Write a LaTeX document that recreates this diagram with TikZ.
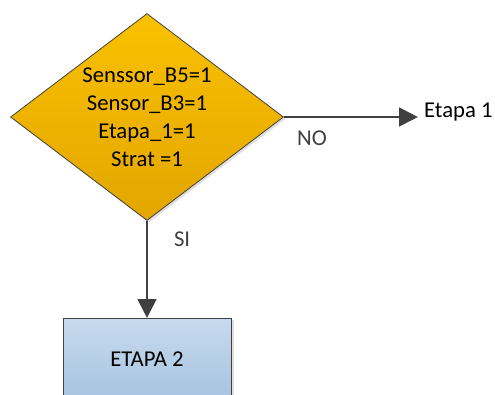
\documentclass[tikz,border=0pt]{standalone}
\usepackage{fontspec}
\setmainfont{Carlito}
\usepackage{tikz}
\usetikzlibrary{positioning,shapes.geometric,shadows,arrows.meta}
\definecolor{DecTop}{RGB}{250,193,0}
\definecolor{DecBottom}{RGB}{226,166,0}
\definecolor{StepTop}{RGB}{199,218,237}
\definecolor{StepBottom}{RGB}{166,196,225}
\definecolor{LineGray}{RGB}{64,64,64}

\begin{document}
\begin{tikzpicture}[%
      x=0.75pt, y=-0.75pt,
      font=\fontsize{17}{21}\selectfont,
      decision/.style={diamond, draw=LineGray, line width=0.6pt, top color=DecTop, bottom color=DecBottom, aspect=1.32, align=center, inner sep=0pt, minimum width=204.75pt, minimum height=155.25pt, drop shadow={shadow xshift=1.5pt, shadow yshift=-1.5pt, opacity=0.25}},
      block/.style={rectangle, draw=LineGray, line width=0.6pt, top color=StepTop, bottom color=StepBottom, align=center, minimum width=126pt, minimum height=61.5pt, drop shadow={shadow xshift=2pt, shadow yshift=-1pt, opacity=0.25}},
      txt/.style={inner sep=4.5pt},
      arrow/.style={-{Triangle[length=14pt, width=14pt]}, line width=1.6pt, LineGray}
    ]
      \useasboundingbox (0,0) rectangle (495,394);

      % Nodes
      \node[decision] (cond) at (147,117) {Senssor\_B5=1\\Sensor\_B3=1\\Etapa\_1=1\\Strat =1};
      \node[txt, right=100.5pt of cond, yshift=4pt] (etapa1) {Etapa 1};
      \node[block, below=72.75pt of cond] (etapa2) {ETAPA 2};

      % Connections
      \draw[arrow] (cond.east) -- node[txt, pos=0.21, below=5pt] {NO} (cond.east -| etapa1.west);
      \draw[arrow] (cond.south) -- node[txt, pos=0.19, right=15pt] {SI} (etapa2.north);
    \end{tikzpicture}
\end{document}
